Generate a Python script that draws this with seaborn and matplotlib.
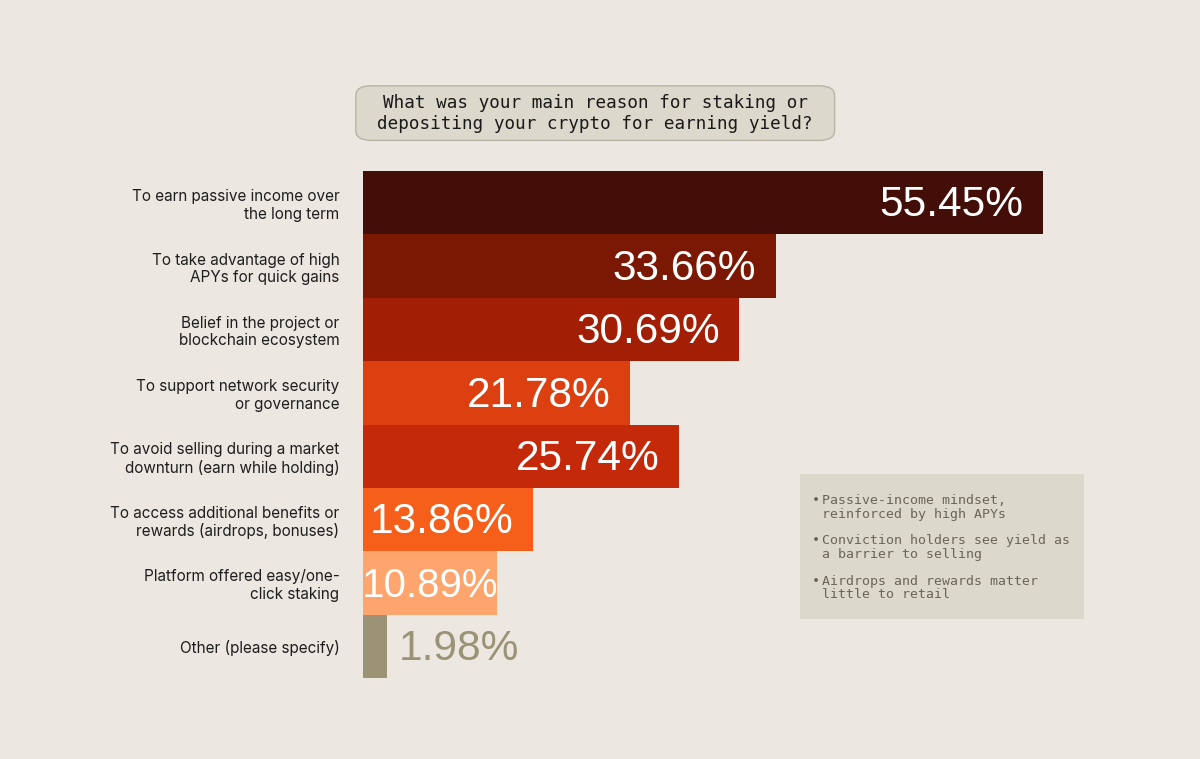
import matplotlib.pyplot as plt
import seaborn as sns
import pandas as pd
from matplotlib.patches import FancyBboxPatch, Rectangle

reasons = [
    "To earn passive income over\nthe long term",
    "To take advantage of high\nAPYs for quick gains",
    "Belief in the project or\nblockchain ecosystem",
    "To support network security\nor governance",
    "To avoid selling during a market\ndownturn (earn while holding)",
    "To access additional benefits or\nrewards (airdrops, bonuses)",
    "Platform offered easy/one-\nclick staking",
    "Other (please specify)",
]
shares = [55.45, 33.66, 30.69, 21.78, 25.74, 13.86, 10.89, 1.98]
bar_colors = ["#430e07", "#7b1804", "#a21e04", "#dc3f10", "#c42a0a",
              "#f55f1a", "#fda56c", "#9c9276"]
notes = [
    "Passive-income mindset,\nreinforced by high APYs",
    "Conviction holders see yield as\na barrier to selling",
    "Airdrops and rewards matter\nlittle to retail",
]
question = "What was your main reason for staking or\ndepositing your crypto for earning yield?"

BG = "#ece7e0"
df = pd.DataFrame({"reason": reasons, "share": shares})

sns.set_theme(style="white")
plt.rcParams["font.family"] = ["Inter", "DejaVu Sans"]

fig = plt.figure(figsize=(12, 7.59), dpi=100, facecolor=BG)
ax = fig.add_axes([0.3025, 0.1067, 0.5667, 0.668])
ax.set_facecolor(BG)

sns.barplot(data=df, y="reason", x="share", hue="reason", palette=bar_colors,
            width=1.0, saturation=1, legend=False, linewidth=0, ax=ax)
ax.set_xlim(0, 55.45)
ax.set_ylim(7.5, -0.5)
for s in ax.spines.values():
    s.set_visible(False)
ax.set_xticks([])
ax.set_xlabel("")
ax.set_ylabel("")
ax.tick_params(axis="y", length=0, pad=17)
for t in ax.get_yticklabels():
    t.set_fontsize(11)
    t.set_color("#1e1e1e")
    t.set_ha("right")
    t.set_multialignment("right")
    t.set_linespacing(1.2)

# percent labels, nudged down a touch to sit centred in the bar
for i, v in enumerate(shares):
    lbl = f"{v:.2f}%"
    if v < 5:
        ax.annotate(lbl, (v, i), xytext=(8, -2), textcoords="offset points",
                    ha="left", va="center", fontsize=30.5, color="#9c9276",
                    family="Liberation Sans")
    elif v < 12:
        ax.annotate(lbl, (v / 2, i), xytext=(0, -2), textcoords="offset points",
                    ha="center", va="center", fontsize=29, color="white",
                    family="Liberation Sans")
    else:
        ax.annotate(lbl, (v, i), xytext=(-14, -2), textcoords="offset points",
                    ha="right", va="center", fontsize=30.5, color="white",
                    family="Liberation Sans")

# question box
fig.patches.append(FancyBboxPatch((0.2965, 0.815), 0.399, 0.072,
                                  boxstyle="round,pad=0,rounding_size=0.013",
                                  transform=fig.transFigure, facecolor="#dcd8cb",
                                  edgecolor="#b8b4a6", linewidth=1))
fig.text(0.496, 0.8505, question, ha="center", va="center", fontsize=12.7,
         family="DejaVu Sans Mono", color="#1a1a1a", linespacing=1.2)

# notes box
fig.patches.append(Rectangle((0.667, 0.184), 0.236, 0.191, transform=fig.transFigure,
                             facecolor="#dcd8cb", edgecolor="none"))
ys = [0.349, 0.296, 0.243]
for y, n in zip(ys, notes):
    fig.text(0.6765, y, "•", ha="left", va="top", fontsize=9.5, color="#6b6557",
             family="DejaVu Sans Mono")
    fig.text(0.685, y, n, ha="left", va="top", fontsize=9.5, color="#6b6557",
             family="DejaVu Sans Mono", linespacing=1.05)

fig.savefig("out.png", dpi=100, facecolor=BG)
